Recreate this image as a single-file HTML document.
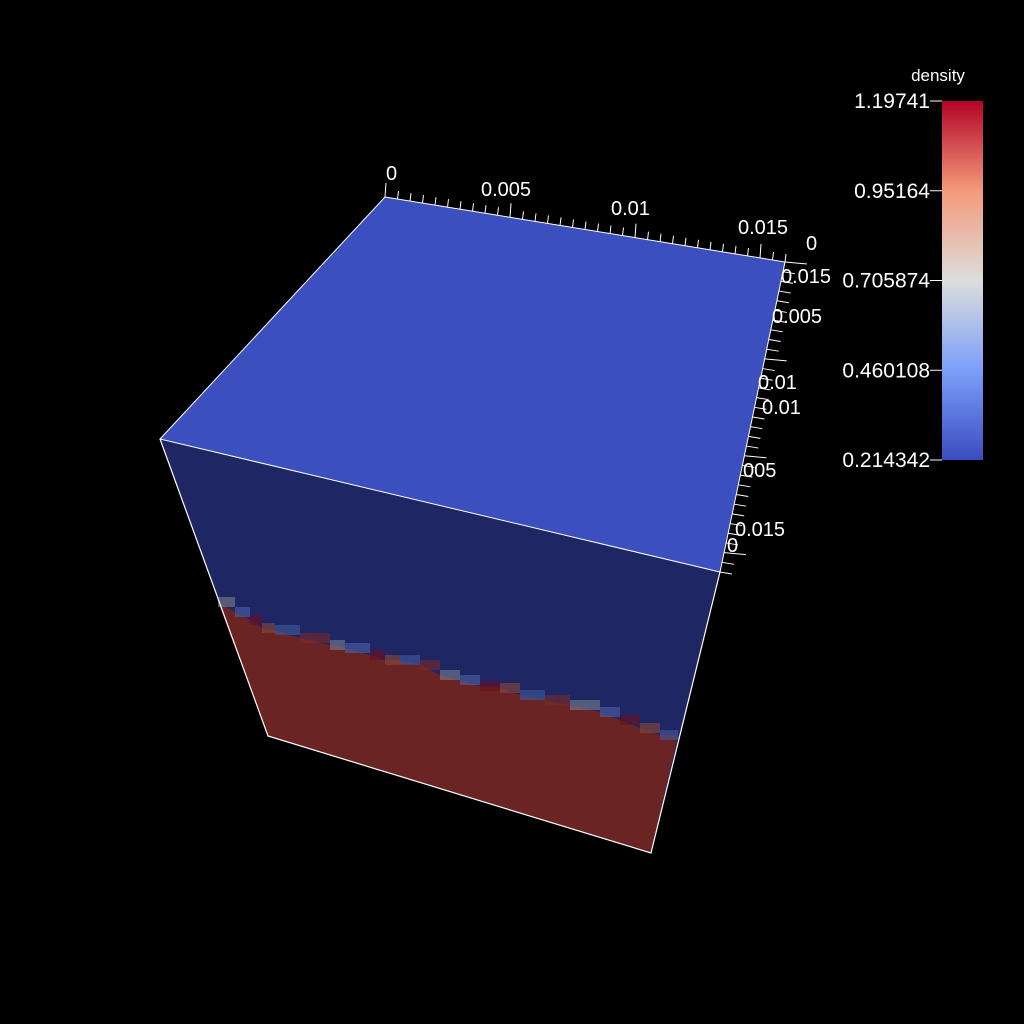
<!DOCTYPE html>
<html><head><meta charset="utf-8"><style>
html,body{margin:0;padding:0;background:#000;}
svg{display:block;}
text{font-family:"Liberation Sans",sans-serif;fill:#fff;}
</style></head><body>
<svg id="s" width="1024" height="1024" viewBox="0 0 1024 1024">
<defs>
<linearGradient id="cw" x1="0" y1="1" x2="0" y2="0">
<stop offset="0" stop-color="#3b4cc0"/><stop offset="0.25" stop-color="#7b9ff9"/>
<stop offset="0.5" stop-color="#dddddd"/><stop offset="0.75" stop-color="#f49a7b"/>
<stop offset="1" stop-color="#b40426"/></linearGradient>
</defs>
<polygon points="385,197 785,262 720,572 160,439" fill="#3c4fbf"/>
<polygon points="160,439 720,572 651,853 268,736" fill="#1e2663"/>
<polygon id="red" fill="#6a2424"/>
<g id="cells"></g>
<polyline points="385,197 785,262 720,572 160,439 385,197" fill="none" stroke="#fff" stroke-width="1"/>
<polyline points="160,439 268,736 651,853 720,572" fill="none" stroke="#fff" stroke-width="1.2"/>
<g id="ticks" stroke="#fff" stroke-width="1"></g>
<g font-size="20">
<text x="386" y="180">0</text>
<text x="481" y="196">0.005</text>
<text x="611" y="215">0.01</text>
<text x="738" y="234">0.015</text>
<text x="806" y="250">0</text>
<text x="781" y="283">0.015</text>
<text x="772" y="323">0.005</text>
<text x="758" y="389">0.01</text>
<text x="762" y="414">0.01</text>
<text x="743" y="477">005</text>
<text x="735" y="536">0.015</text>
<text x="727" y="552">0</text>
</g>
<text x="938" y="81" font-size="17" text-anchor="middle">density</text>
<rect x="942" y="101" width="41" height="359" fill="url(#cw)"/>
<g id="cb" font-size="21"></g>
</svg>
<script>
const interfaceX=[218,235,250,262,275,300,330,345,370,385,400,420,440,460,480,500,520,545,570,600,620,640,660,678];
const interfaceY=[602,612,620,628,630,638,645,648,655,660,660,665,675,680,686,688,695,700,705,712,720,728,735,735];
const cbLabels=["1.19741","0.95164","0.705874","0.460108","0.214342"];
const cbValues=[1.19741,0.95164,0.705874,0.460108,0.214342];
const NS="http://www.w3.org/2000/svg";
function yCb(v){return 460-(v-0.214342)/(1.19741-0.214342)*359;}
let pts=interfaceX.map((x,i)=>x+","+interfaceY[i]);
pts.push("651,853","268,736");
document.getElementById('red').setAttribute('points',pts.join(' '));
const cellCols=["#7a7f8f","#4a62a8","#6d0f1c","#8a4a3a","#3e5aa0","#7a2a2a"];
const cg=document.getElementById('cells');
for(let i=0;i<interfaceX.length-1;i++){
  const x=interfaceX[i],y=interfaceY[i];
  const r=document.createElementNS(NS,'rect');
  
  
  r.setAttribute('x',x);r.setAttribute('y',y-5);r.setAttribute('width',interfaceX[i+1]-x);r.setAttribute('height',10);
  r.setAttribute('fill',cellCols[i%cellCols.length]);r.setAttribute('opacity','0.6');
  cg.appendChild(r);
}
const tg=document.getElementById('ticks');
function line(x1,y1,x2,y2){const l=document.createElementNS(NS,'line');


l.setAttribute('x1',x1);l.setAttribute('y1',y1);l.setAttribute('x2',x2);l.setAttribute('y2',y2);tg.appendChild(l);}
for(let k=0;k<=32;k++){const t=k/32;const x=385+400*t,y=197+65*t;const L=k%10==0?14:8;line(x,y,x+1,y-L);}
for(let k=0;k<=32;k++){const t=k/32;const x=785-65*t,y=262+310*t;const L=k%10==0?22:12;line(x,y,x+L,y+2);}
const cb=document.getElementById('cb');
cbValues.forEach((v,i)=>{const y=yCb(v);
const l=document.createElementNS(NS,'line');


l.setAttribute('x1',930);l.setAttribute('x2',942);l.setAttribute('y1',y);l.setAttribute('y2',y);l.setAttribute('stroke','#fff');cb.appendChild(l);
const t=document.createElementNS(NS,'text');


t.setAttribute('x',930);t.setAttribute('y',y+7);t.setAttribute('text-anchor','end');t.textContent=cbLabels[i];cb.appendChild(t);});
</script>
</body></html>
